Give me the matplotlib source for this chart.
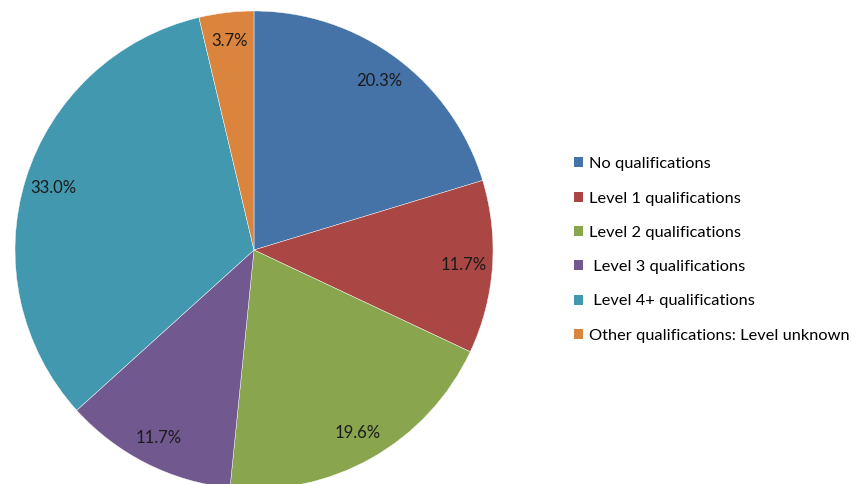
import matplotlib.pyplot as plt
from matplotlib.patches import Patch

plt.rcParams['font.family'] = ['Lato', 'DejaVu Sans']

# Data
categories = ['No qualifications', 'Level 1 qualifications', 'Level 2 qualifications',
              ' Level 3 qualifications', ' Level 4+ qualifications',
              'Other qualifications: Level unknown']
shares = [20.3, 11.7, 19.6, 11.7, 33.0, 3.7]
colors = ['#4572A7', '#AA4643', '#89A54E', '#71588F', '#4198AF', '#DB843D']

W, H = 861, 484
fig = plt.figure(figsize=(W / 100, H / 100), dpi=100)

# pie centre at (254, 250) px, radius 239 px
cx, cy, r = 254, 250, 239
ax = fig.add_axes([(cx - r) / W, (H - cy - r) / H, 2 * r / W, 2 * r / H])

wedges, texts, autotexts = ax.pie(
    shares, colors=colors, startangle=90, counterclock=False,
    autopct='%.1f%%', pctdistance=0.88, radius=1,
    wedgeprops=dict(edgecolor='white', linewidth=0.3),
    textprops=dict(fontsize=12, color='#1a1a1a'))
ax.set_xlim(-1, 1)
ax.set_ylim(-1, 1)
ax.set_aspect('equal')
ax.axis('off')

handles = [Patch(facecolor=c, edgecolor='none') for c in colors]
fig.legend(handles, categories, loc='center left',
           bbox_to_anchor=(566 / W, (H - 250) / H), frameon=False,
           fontsize=11.8, handlelength=0.55, handleheight=0.55, handletextpad=0.35,
           labelspacing=1.24, borderpad=0)

fig.savefig('out.png', dpi=100)
